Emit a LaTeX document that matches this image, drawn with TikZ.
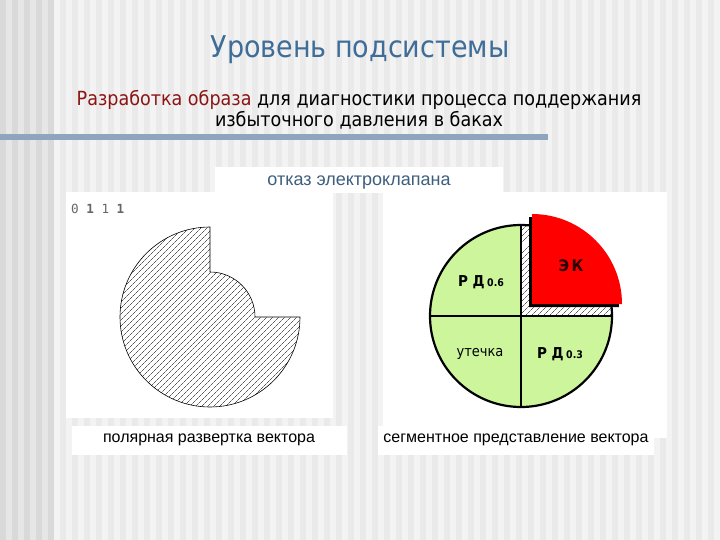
\documentclass[tikz,border=0pt]{standalone}
\usepackage{fontspec}
\setmainfont{Liberation Sans}
\newfontfamily\tah[FakeStretch=0.9]{DejaVu Sans}
\newfontfamily\monof{DejaVu Sans Mono}
\usetikzlibrary{patterns.meta}
\definecolor{bgA}{HTML}{F3F3F3}
\definecolor{bgB}{HTML}{EAEAEA}
\definecolor{bgC}{HTML}{D9D9D9}
\definecolor{bgD}{HTML}{E6E6E6}
\definecolor{titleblue}{HTML}{3F6D97}
\definecolor{darkred}{HTML}{8B1414}
\definecolor{barblue}{HTML}{8FA5BE}
\definecolor{pgreen}{HTML}{CCF59C}
\definecolor{capblue}{HTML}{3E5E7E}
\tikzset{
  panel/.style={fill=white,draw=none},
  hatch/.style={pattern={Lines[angle=45,distance=4pt,line width=0.4pt]}},
  lbl/.style={inner sep=0pt,font=\tah\bfseries\fontsize{15}{15}\selectfont},
  captext/.style={inner sep=0pt,font=\fontsize{16}{18}\selectfont}
}
\begin{document}
\begin{tikzpicture}[x=1pt,y=-1pt]
\useasboundingbox (0,0) rectangle (720,540);
% background
\fill[bgA] (0,0) rectangle (720,540);
\foreach \i in {0,1,2,3,4} {\fill[bgC] (\i*12,0) rectangle (\i*12+6,540);}
\foreach \i in {0,1,2,3} {\fill[bgD] (\i*12+6,0) rectangle (\i*12+12,540);}
\foreach \i in {0,...,55} {\fill[bgB] (60+\i*12,0) rectangle (66+\i*12,540);}
% title
\node[font=\tah\fontsize{30}{30}\selectfont,text=titleblue] (title) at (360,50) {Уровень подсистемы};
\node[font=\tah\fontsize{19.5}{21}\selectfont,align=center] (sub) at (359,110)
  {\textcolor{darkred}{Разработка образа} для диагностики процесса поддержания\\избыточного давления в баках};
\fill[barblue] (0,134.5) rectangle (548,140.5);
% panels
\fill[panel] (215,167) rectangle (503,193);
\node[captext,text=capblue,font=\fontsize{18}{18}\selectfont] (otk) at (359,183) {отказ электроклапана};
\fill[panel] (66,192) rectangle (333,418);
\fill[panel] (383,192) rectangle (667,438);
\fill[panel] (72,426) rectangle (347,455);
\fill[panel] (378,426) rectangle (654,455);
\node[captext] (c1) at (209,440) {полярная развертка вектора};
\node[captext] (c2) at (516,440) {сегментное представление вектора};
% left polar shape
\node[inner sep=0pt,anchor=west,text=black!60,font=\monof\fontsize{12.6}{12}\selectfont] (bits) at (71,209) {0 \textbf{1} 1 \textbf{1}};
\draw[line width=0.6pt,fill=white] (210,227) -- (210,272) arc[start angle=-90,end angle=0,radius=45] -- (300,317)
   arc[start angle=0,end angle=270,radius=90] -- cycle;
\path[hatch] (210,227) -- (210,272) arc[start angle=-90,end angle=0,radius=45] -- (300,317)
   arc[start angle=0,end angle=270,radius=90] -- cycle;
% right pie
\coordinate (pc) at (521,316);
\fill[pgreen] (pc) circle[radius=91];
\fill[white] (pc) -- (521,225) arc[start angle=-90,end angle=0,radius=91] -- cycle;
\path[hatch] (pc) -- (521,225) arc[start angle=-90,end angle=0,radius=91] -- cycle;
\draw[line width=1.5pt] (521,225) -- (521,407);
\draw[line width=1.5pt] (430,316) -- (612,316);
\draw[line width=2.2pt] (pc) circle[radius=91];
\fill[black] (529,307) -- (529,217) arc[start angle=-90,end angle=0,radius=90] -- cycle;
\fill[red] (532,304) -- (532,214) arc[start angle=-90,end angle=0,radius=90] -- cycle;
\node[lbl] (rd6) at (481,282) {Р Д\,{\fontsize{10.5}{10}\selectfont 0.6}};
\node[lbl,text=black!85!red,font=\tah\bfseries\fontsize{16}{16}\selectfont] (ek) at (571,266) {Э\,К};
\node[lbl,font=\tah\fontsize{14.5}{15}\selectfont] (ut) at (480,354) {утечка};
\node[lbl] (rd3) at (560,354) {Р Д\,{\fontsize{10.5}{10}\selectfont 0.3}};
\end{tikzpicture}
\end{document}
